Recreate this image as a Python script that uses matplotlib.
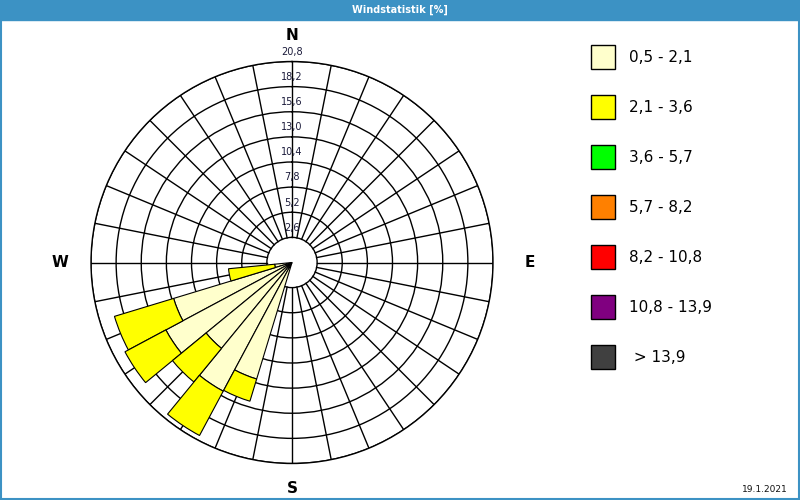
import numpy as np
import matplotlib.pyplot as plt
from matplotlib.patches import Rectangle

# wind directions (compass degrees, 32 sectors) and frequency per speed class [%]
directions = [258.75, 247.5, 236.25, 225.0, 213.75, 202.5]
freq_low = [1.8, 12.8, 14.8, 11.5, 15.1, 12.6]     # 0,5 - 2,1
freq_mid = [4.8, 6.4, 4.8, 4.5, 5.2, 2.4]          # 2,1 - 3,6

speed_labels = ['0,5 - 2,1', '2,1 - 3,6', '3,6 - 5,7', '5,7 - 8,2',
                '8,2 - 10,8', '10,8 - 13,9', ' > 13,9']
speed_colors = ['#ffffcc', '#ffff00', '#00ff00', '#ff8000',
                '#ff0000', '#800080', '#404040']

ring_values = [2.6, 5.2, 7.8, 10.4, 13.0, 15.6, 18.2, 20.8]
ring_labels = ['2,6', '5,2', '7,8', '10,4', '13,0', '15,6', '18,2', '20,8']
r_max = 20.8
sector = 11.25

fig = plt.figure(figsize=(8, 5), dpi=100)
fig.patch.set_facecolor('white')

# background axes in pixel coordinates for the frame, title and legend
bg = fig.add_axes([0, 0, 1, 1])
bg.set_xlim(0, 800)
bg.set_ylim(500, 0)
bg.axis('off')
bg.add_patch(Rectangle((0, 0), 800, 20, color='#3c92c4', zorder=1))
bg.add_patch(Rectangle((0.5, 0.5), 798, 498, fill=False, edgecolor='#3c92c4', lw=1.5))
bg.text(400, 10, 'Windstatistik [%]', color='white', fontsize=7,
        ha='center', va='center', fontweight='bold')
bg.text(765, 490, '19.1.2021', fontsize=6.5, ha='center', va='center', color='#111111')

for i, (lab, col) in enumerate(zip(speed_labels, speed_colors)):
    y = 45 + 50 * i
    bg.add_patch(Rectangle((591, y), 24, 24, facecolor=col, edgecolor='black', lw=1))
    bg.text(629, y + 13, lab, fontsize=11, va='center', ha='left', color='black')

# polar rose
cx, cy, rad = 292, 262.5, 201
ax = fig.add_axes([(cx - rad) / 800, (500 - cy - rad) / 500, 2 * rad / 800, 2 * rad / 500],
                  projection='polar')
ax.set_theta_zero_location('N')
ax.set_theta_direction(-1)
ax.set_ylim(0, r_max)
ax.set_xticks([])
ax.set_yticks(ring_values)
ax.set_yticklabels([])
ax.yaxis.grid(True, color='black', lw=1)
ax.xaxis.grid(False)
ax.spines['polar'].set_color('black')
ax.spines['polar'].set_linewidth(1)
ax.set_facecolor('white')

for a in np.arange(0, 360, sector):
    ax.plot([np.deg2rad(a)] * 2, [ring_values[0], r_max], color='black', lw=1, zorder=1)

theta = np.deg2rad(directions)
width = np.deg2rad(sector)
ax.bar(theta, freq_low, width=width, color=speed_colors[0], edgecolor='black', lw=0.8, zorder=3)
ax.bar(theta, freq_mid, width=width, bottom=freq_low, color=speed_colors[1],
       edgecolor='black', lw=0.8, zorder=3)

for v, lab in zip(ring_values, ring_labels):
    ax.text(0, v + 1.0, lab, fontsize=7, ha='center', va='center', color='#1a1a3a',
            zorder=4, clip_on=False)

for ang, lab, r in [(0, 'N', 23.5), (90, 'E', 24.6), (180, 'S', 23.4), (270, 'W', 24.0)]:
    ax.text(np.deg2rad(ang), r, lab, fontsize=11, fontweight='bold', ha='center',
            va='center', clip_on=False)

fig.savefig('out.png', dpi=100, facecolor='white')
